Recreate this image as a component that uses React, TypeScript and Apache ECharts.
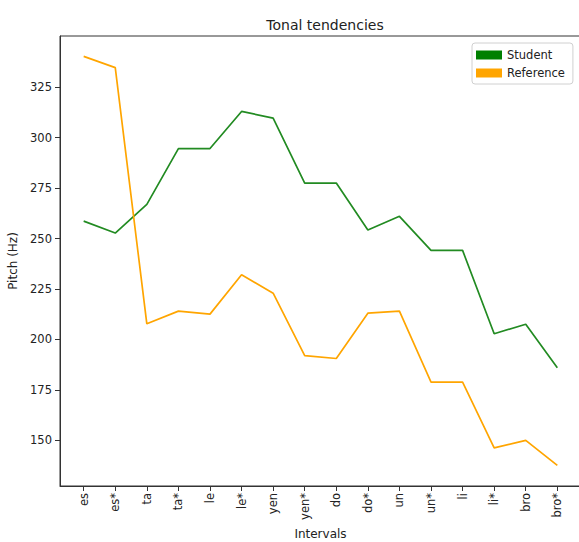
import React, { useEffect, useRef } from "react";
import * as echarts from "echarts";

const categories = ["es", "es*", "ta", "ta*", "le", "le*", "yen", "yen*", "do", "do*", "un", "un*", "li", "li*", "bro", "bro*"];
const student = [258.6, 252.7, 266.9, 294.6, 294.6, 313.0, 309.7, 277.5, 277.5, 254.2, 261.0, 244.1, 244.1, 202.8, 207.5, 185.9];
const reference = [340.3, 334.7, 207.7, 214.0, 212.5, 232.0, 222.9, 191.9, 190.5, 213.0, 214.0, 178.8, 178.8, 146.2, 149.9, 137.5];
const yTicks = [150, 175, 200, 225, 250, 275, 300, 325];
const xTicks = categories.map((_, i) => i);

const FONT = "DejaVu Sans";

export default function App() {
  const ref = useRef<HTMLDivElement>(null);
  useEffect(() => {
    if (!ref.current) return;
    const chart = echarts.init(ref.current, null, { renderer: "svg" });
    chart.setOption({
      animation: false,
      backgroundColor: "#fff",
      textStyle: { fontFamily: FONT },
      title: {
        text: "Tonal tendencies",
        left: 320,
        textAlign: "center",
        top: 13,
        textStyle: { fontFamily: FONT, fontSize: 14, fontWeight: "normal", color: "#222" },
      },
      legend: {
        orient: "vertical",
        left: 472,
        top: 43,
        padding: [6, 8, 5, 4],
        itemGap: 6,
        itemWidth: 26,
        itemHeight: 9,
        icon: "rect",
        borderColor: "#d0d0d0",
        borderWidth: 1,
        borderRadius: 3,
        textStyle: { fontFamily: FONT, fontSize: 11.5, color: "#222" },
        data: [
          { name: "Student", itemStyle: { color: "#008000" } },
          { name: "Reference", itemStyle: { color: "#FFA500" } },
        ],
      },
      grid: {
        left: 60,
        top: 36,
        width: 521,
        height: 450,
        outerBoundsMode: "none",
        containLabel: false,
        show: true,
        borderColor: "#333",
        borderWidth: 1,
        backgroundColor: "transparent",
      },
      xAxis: {
        type: "value",
        min: -0.75,
        max: 15.75,
        name: "Intervals",
        nameLocation: "middle",
        nameGap: 42,
        nameTextStyle: { fontFamily: FONT, fontSize: 12, color: "#222" },
        axisLine: { show: true, onZero: false, lineStyle: { color: "#333", width: 1 } },
        axisTick: { show: true, customValues: xTicks, length: 5, lineStyle: { color: "#333" } },
        axisLabel: {
          customValues: xTicks,
          rotate: 90,
          margin: 7,
          fontFamily: FONT,
          fontSize: 11.5,
          color: "#222",
          formatter: (v: number) => categories[Math.round(v)] ?? "",
        },
        splitLine: { show: false },
      },
      yAxis: {
        type: "value",
        min: 127.3,
        max: 350.4,
        name: "Pitch (Hz)",
        nameLocation: "middle",
        nameRotate: 90,
        nameGap: 36,
        nameTextStyle: { fontFamily: FONT, fontSize: 12, color: "#222", verticalAlign: "middle" },
        axisLine: { show: true, onZero: false, lineStyle: { color: "#333", width: 1 } },
        axisTick: { show: true, customValues: yTicks, length: 5, lineStyle: { color: "#333" } },
        axisLabel: {
          customValues: yTicks,
          margin: 8,
          fontFamily: FONT,
          fontSize: 11.5,
          color: "#222",
        },
        splitLine: { show: false },
      },
      series: [
        {
          name: "Student",
          type: "line",
          data: student.map((v, i) => [i, v]),
          showSymbol: false,
          symbol: "none",
          lineStyle: { color: "#228B22", width: 1.7 },
          itemStyle: { color: "#008000" },
        },
        {
          name: "Reference",
          type: "line",
          data: reference.map((v, i) => [i, v]),
          showSymbol: false,
          symbol: "none",
          lineStyle: { color: "#FFA500", width: 1.7 },
          itemStyle: { color: "#FFA500" },
        },
      ],
    });
    return () => chart.dispose();
  }, []);
  return (
    <div
      ref={ref}
      style={{ position: "fixed", left: 0, top: 0, width: 579, height: 542 }}
    />
  );
}
